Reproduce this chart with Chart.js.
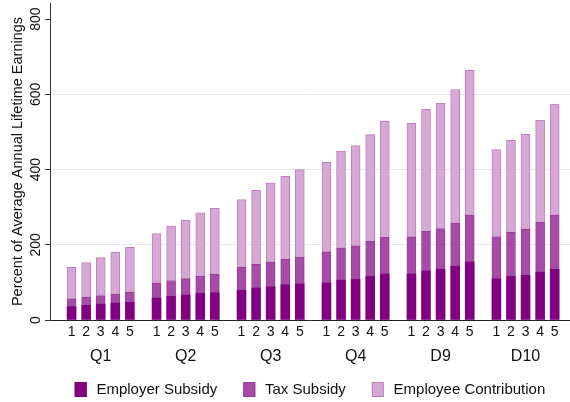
<!DOCTYPE html>
<html>
<head>
<meta charset="utf-8">
<title>Lifetime Earnings Subsidy Breakdown</title>
<script src="https://cdn.jsdelivr.net/npm/chart.js@4.4.0/dist/chart.umd.min.js"></script>
<style>
  html, body { margin: 0; padding: 0; background: #ffffff; }
  canvas { display: block; }
</style>
</head>
<body>
<canvas id="chart" width="570" height="402"></canvas>
<script>
// Earnings groups and the five bars shown within each group
const groups = ['Q1', 'Q2', 'Q3', 'Q4', 'D9', 'D10'];
const barLabels = ['1', '2', '3', '4', '5'];

// Stacked components, percent of average annual lifetime earnings (group by group, bars 1-5)
const employerSubsidy = [
  36, 39, 43, 45, 47,
  59, 63, 67, 71, 73,
  79, 85, 89, 94, 97,
  99, 106, 108, 116, 123,
  123, 131, 135, 143, 155,
  110, 116, 119, 128, 135
];
const taxSubsidy = [
  20, 22, 22, 24, 27,
  40, 42, 43, 46, 49,
  62, 64, 65, 68, 70,
  82, 86, 89, 93, 97,
  98, 105, 108, 115, 124,
  112, 118, 123, 132, 145
];
const employeeContribution = [
  84, 92, 101, 111, 119,
  131, 145, 156, 168, 175,
  179, 196, 210, 220, 233,
  238, 257, 267, 284, 308,
  302, 324, 333, 355, 385,
  231, 244, 252, 271, 294
];

const yTicks = [0, 200, 400, 600, 800];

// Horizontal layout: bars one unit apart, a wider gap between groups
const GROUP_GAP = 1.83;
const GROUP_STRIDE = (barLabels.length - 1) + GROUP_GAP;
const barPositions = [];
groups.forEach((g, gi) => barLabels.forEach((b, bi) => barPositions.push(gi * GROUP_STRIDE + bi)));
const groupCenters = groups.map((g, gi) => gi * GROUP_STRIDE + (barLabels.length - 1) / 2);
const X_MIN = -1.48;
const X_MAX = barPositions[barPositions.length - 1] + 1.05;

const toPoints = values => values.map((v, i) => ({ x: barPositions[i], y: v }));

const FONT = '"Liberation Sans", Arial, Helvetica, sans-serif';
Chart.defaults.font.family = FONT;
Chart.defaults.color = '#111111';

// Legend row drawn beneath the group labels
const keyRow = {
  id: 'keyRow',
  afterDraw(chart) {
    const ctx = chart.ctx;
    const area = chart.chartArea;
    ctx.save();
    ctx.font = '15px ' + FONT;
    const items = chart.data.datasets.map(ds => ({
      label: ds.label,
      fill: ds.backgroundColor,
      stroke: ds.borderColor,
      w: ctx.measureText(ds.label).width
    }));
    const boxW = 12, boxH = 15, gap = 9.7, spacing = 26;
    const total = items.reduce((s, it) => s + boxW + gap + it.w, 0) + spacing * (items.length - 1);
    let x = (area.left + area.right) / 2 - total / 2;
    const cy = chart.height - 12.5;
    items.forEach(it => {
      ctx.fillStyle = it.fill;
      ctx.fillRect(x, cy - boxH / 2, boxW, boxH);
      ctx.strokeStyle = it.stroke;
      ctx.lineWidth = 1;
      ctx.strokeRect(x + 0.5, cy - boxH / 2 + 0.5, boxW - 1, boxH - 1);
      ctx.fillStyle = '#111111';
      ctx.textAlign = 'left';
      ctx.textBaseline = 'middle';
      ctx.fillText(it.label, x + boxW + gap, cy);
      x += boxW + gap + it.w + spacing;
    });
    ctx.restore();
  }
};

new Chart(document.getElementById('chart'), {
  type: 'bar',
  data: {
    datasets: [
      {
        label: 'Employer Subsidy',
        data: toPoints(employerSubsidy),
        backgroundColor: '#800080',
        borderColor: '#800080',
        borderWidth: 0
      },
      {
        label: 'Tax Subsidy',
        data: toPoints(taxSubsidy),
        backgroundColor: '#a64ca6',
        borderColor: '#9a3a9a',
        borderWidth: 1
      },
      {
        label: 'Employee Contribution',
        data: toPoints(employeeContribution),
        backgroundColor: '#d6a8d6',
        borderColor: '#c07fc0',
        borderWidth: 1
      }
    ]
  },
  options: {
    responsive: false,
    animation: false,
    devicePixelRatio: 1,
    barThickness: 9,
    layout: { padding: { top: 3, right: 0, bottom: 32, left: 0 } },
    plugins: {
      legend: { display: false },
      tooltip: { enabled: false }
    },
    scales: {
      x: {
        type: 'linear',
        position: 'bottom',
        stacked: true,
        min: X_MIN,
        max: X_MAX,
        offset: false,
        weight: 0,
        grid: { display: false, drawTicks: false, offset: false },
        border: { display: true, color: '#222222', width: 1 },
        afterBuildTicks: s => { s.ticks = barPositions.map(v => ({ value: v })); },
        afterFit: s => { s.height = 24; },
        ticks: {
          autoSkip: false,
          minRotation: 0,
          maxRotation: 0,
          padding: 4,
          color: '#111111',
          font: { size: 14 },
          callback: (v, i) => barLabels[i % barLabels.length]
        }
      },
      xg: {
        type: 'linear',
        position: 'bottom',
        min: X_MIN,
        max: X_MAX,
        offset: false,
        weight: 1,
        grid: { display: false, drawTicks: false },
        border: { display: false },
        afterBuildTicks: s => { s.ticks = groupCenters.map(v => ({ value: v })); },
        afterFit: s => { s.height = 26; },
        ticks: {
          autoSkip: false,
          minRotation: 0,
          maxRotation: 0,
          padding: 3,
          color: '#111111',
          font: { size: 16 },
          callback: (v, i) => groups[i]
        }
      },
      y: {
        type: 'linear',
        position: 'left',
        stacked: true,
        min: 0,
        max: 843,
        afterBuildTicks: s => { s.ticks = yTicks.map(v => ({ value: v })); },
        afterFit: s => { s.width = 50; s.paddingTop = 0; s.paddingBottom = 0; },
        grid: {
          color: c => (c.tick && c.tick.value > 0 && c.tick.value < 800) ? '#e4ebee' : 'rgba(0,0,0,0)',
          tickColor: '#333333',
          tickLength: 5,
          drawTicks: true
        },
        border: { display: true, color: '#333333', width: 1 },
        ticks: {
          minRotation: 90,
          maxRotation: 90,
          crossAlign: 'center',
          padding: -3,
          color: '#111111',
          font: { size: 14 }
        },
        title: {
          display: true,
          text: 'Percent of Average Annual Lifetime Earnings',
          color: '#111111',
          font: { size: 14.5 },
          padding: { top: 9, bottom: 0 }
        }
      }
    }
  },
  plugins: [keyRow]
});
</script>
</body>
</html>
